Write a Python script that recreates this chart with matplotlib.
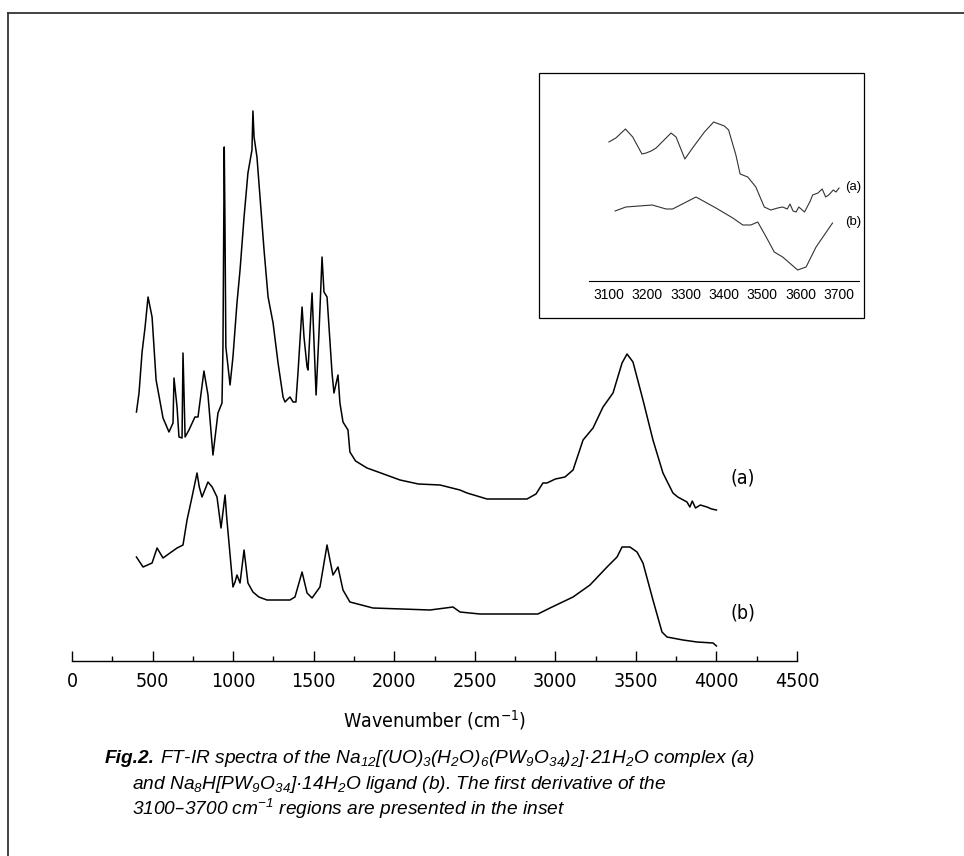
import matplotlib
matplotlib.use("Agg")
import matplotlib.pyplot as plt
from matplotlib.patches import Rectangle
from matplotlib.lines import Line2D

W, H = 964, 856

# FT-IR spectra: wavenumber (cm-1) and intensity (a.u.)
wn_a = [400, 416, 435, 453, 472, 497, 522, 565, 602, 627, 633, 652, 664, 683, 689, 702,
        726, 763, 782, 819, 844, 875, 906, 931, 937, 945, 949, 955, 981, 999, 1024, 1043,
        1068, 1092, 1117, 1123, 1130, 1148, 1167, 1192, 1217, 1248, 1279, 1310, 1322, 1340,
        1353, 1372, 1390, 1403, 1428, 1440, 1459, 1465, 1483, 1490, 1496, 1515, 1533, 1552,
        1564, 1583, 1614, 1626, 1651, 1663, 1682, 1713, 1725, 1760, 1831, 1900, 2036, 2150,
        2284, 2408, 2452, 2576, 2824, 2880, 2923, 2948, 3000, 3060, 3110, 3172, 3234, 3296,
        3358, 3414, 3445, 3482, 3544, 3606, 3668, 3730, 3760, 3817, 3835, 3850, 3870, 3900,
        3941, 3970, 4000]
int_a = [245, 264, 305, 329, 360, 340, 277, 239, 225, 234, 279, 250, 220, 219, 304, 220,
         227, 240, 240, 286, 262, 202, 244, 254, 310, 510, 442, 310, 272, 300, 354, 387,
         440, 484, 507, 546, 520, 500, 460, 407, 360, 334, 294, 260, 255, 258,
         260, 255, 255, 285, 350, 320, 290, 287, 344, 364, 340, 262, 324, 400,
         365, 360, 284, 264, 282, 254, 235, 227, 205, 196, 189, 185, 177, 173,
         172, 167, 164, 158, 158, 163, 174, 174, 178, 180, 187, 217, 229, 250,
         264, 294, 303, 295, 257, 217, 184, 164, 160, 155, 150, 156, 149, 152,
         150, 148, 147]

wn_b = [400, 441, 497, 528, 565, 608, 652, 689, 714, 745, 776, 790, 807, 844, 870, 900,
        925, 950, 960, 999, 1012, 1024, 1043, 1068, 1092, 1123, 1160, 1210, 1353, 1384,
        1428, 1459, 1490, 1539, 1583, 1601, 1620, 1651, 1682, 1725, 1868, 2222, 2365, 2408,
        2532, 2892, 2967, 3110, 3215, 3321, 3383, 3414, 3463, 3507, 3544, 3606, 3662, 3693,
        3792, 3879, 3979, 4000]
int_b = [100, 90, 94, 109, 99, 104, 109, 112, 137, 160, 184, 170, 160, 175, 170, 160,
         129, 162, 140, 70, 75, 82, 74, 107, 74, 65, 60, 57, 57, 60,
         85, 64, 59, 70, 112, 97, 82, 90, 67, 55, 49, 47, 50, 45,
         43, 43, 49, 60, 72, 90, 100, 110, 110, 105, 94, 57, 25, 20,
         17, 15, 14, 11]

# first derivative, 3100-3700 cm-1
der_wn_a = [3100, 3118, 3143, 3162, 3186, 3197, 3210, 3223, 3262, 3275, 3298, 3318, 3349,
            3373, 3401, 3412, 3431, 3442, 3462, 3483, 3505, 3522, 3540, 3553, 3565, 3572,
            3580, 3588, 3595, 3601, 3610, 3625, 3631, 3645, 3656, 3665, 3673, 3685, 3692, 3700]
der_a = [139, 143, 152, 144, 127, 128, 130, 133, 148, 144, 122, 133, 149,
         159, 155, 151, 126, 107, 104, 94, 74, 71, 73, 74, 72, 77,
         70, 69, 74, 72, 69, 80, 86, 88, 92, 84, 86, 91, 89, 93]
der_wn_b = [3116, 3144, 3213, 3249, 3266, 3327, 3379, 3423, 3449, 3470, 3488, 3510, 3531,
            3553, 3592, 3614, 3640, 3683]
der_b = [70, 74, 76, 72, 72, 84, 73, 63, 56, 56, 59, 44, 29,
         24, 11, 14, 34, 58]

xticks = list(range(0, 4501, 500))
inset_ticks = list(range(3100, 3701, 100))

narrow = ['DejaVu Sans', 'Liberation Sans']
sans = ['Liberation Sans', 'DejaVu Sans']


def box(x0, y0, x1, y1):
    # pixel box (top-left origin) -> figure fraction [left, bottom, width, height]
    return [x0 / W, 1 - y1 / H, (x1 - x0) / W, (y1 - y0) / H]


fig = plt.figure(figsize=(W / 100, H / 100), dpi=100)

# frame around the figure
fig.add_artist(Line2D([8 / W, 8 / W], [0, 1 - 13 / H], color='#333333', lw=1.3))
fig.add_artist(Line2D([8 / W, 1], [1 - 13 / H, 1 - 13 / H], color='#333333', lw=1.3))

ax = fig.add_axes(box(72, 100, 797, 661))
ax.plot(wn_a, int_a, color='black', lw=1.1)
ax.plot(wn_b, int_b, color='black', lw=1.1)
ax.set_xlim(0, 4500)
ax.set_ylim(-4, 557)
for s in ['top', 'right', 'left']:
    ax.spines[s].set_visible(False)
ax.spines['bottom'].set_linewidth(1.0)
ax.set_yticks([])
ax.set_xticks(xticks)
ax.set_xticks(list(range(250, 4500, 500)), minor=True)
ax.tick_params(axis='x', which='major', direction='in', length=7, width=1.0, pad=8)
ax.tick_params(axis='x', which='minor', direction='in', length=3.5, width=1.0)
for lab in ax.get_xticklabels():
    lab.set_family(narrow)
    lab.set_stretch('condensed')
    lab.set_fontsize(14)
ax.set_xlabel(r'Wavenumber (cm$\mathregular{^{-1}}$)', family=narrow, stretch='condensed',
              fontsize=14, labelpad=12)
ax.text(4160, 657 - 478, '(a)', family=narrow, stretch='condensed', fontsize=14,
        va='center', ha='center')
ax.text(4165, 657 - 613, '(b)', family=narrow, stretch='condensed', fontsize=14,
        va='center', ha='center')

# inset with the first derivative
fig.add_artist(Rectangle((539 / W, 1 - 318 / H), 325 / W, 245 / H, transform=fig.transFigure,
                         fill=False, edgecolor='black', lw=0.9))
ins = fig.add_axes(box(589, 80, 859, 281))
ins.plot(der_wn_a, der_a, color='#333333', lw=0.8)
ins.plot(der_wn_b, der_b, color='#333333', lw=0.8)
ins.set_xlim(3048, 3752)
ins.set_ylim(0, 201)
ins.patch.set_visible(False)
for s in ['top', 'right', 'left']:
    ins.spines[s].set_visible(False)
ins.spines['bottom'].set_linewidth(0.8)
ins.set_yticks([])
ins.set_xticks(inset_ticks)
ins.tick_params(axis='x', length=0, pad=5, labelsize=10)
for lab in ins.get_xticklabels():
    lab.set_family(sans)
ins.text(3715, 281 - 187, '(a)', family=sans, fontsize=9.5, va='center')
ins.text(3715, 281 - 222, '(b)', family=sans, fontsize=9.5, va='center')

# caption
fig.canvas.draw()
renderer = fig.canvas.get_renderer()
sub = lambda s: r'$\mathregular{_{%s}}$' % s
cap_size = 13.8
t = fig.text(105 / W, 1 - 763 / H, 'Fig.2.', family=sans, style='italic', weight='bold',
             fontsize=cap_size, va='baseline')
bb = t.get_window_extent(renderer)
line1 = (' FT-IR spectra of the Na' + sub('12') + '[(UO)' + sub('3') + '(H' + sub('2') + 'O)'
         + sub('6') + '(PW' + sub('9') + 'O' + sub('34') + ')' + sub('2') + ']\u00b721H' + sub('2')
         + 'O complex (a)')
fig.text(bb.x1 / W, 1 - 763 / H, line1, family=sans, style='italic', fontsize=cap_size, va='baseline')
line2 = ('and Na' + sub('8') + 'H[PW' + sub('9') + 'O' + sub('34') + ']\u00b714H' + sub('2')
         + 'O ligand (b). The first derivative of the')
fig.text(132 / W, 1 - 789 / H, line2, family=sans, style='italic', fontsize=cap_size, va='baseline')
line3 = '3100\u20133700 cm' + r'$\mathregular{^{-1}}$' + ' regions are presented in the inset'
fig.text(132 / W, 1 - 815 / H, line3, family=sans, style='italic', fontsize=cap_size, va='baseline')

fig.savefig('out.png', dpi=100, facecolor='white')
